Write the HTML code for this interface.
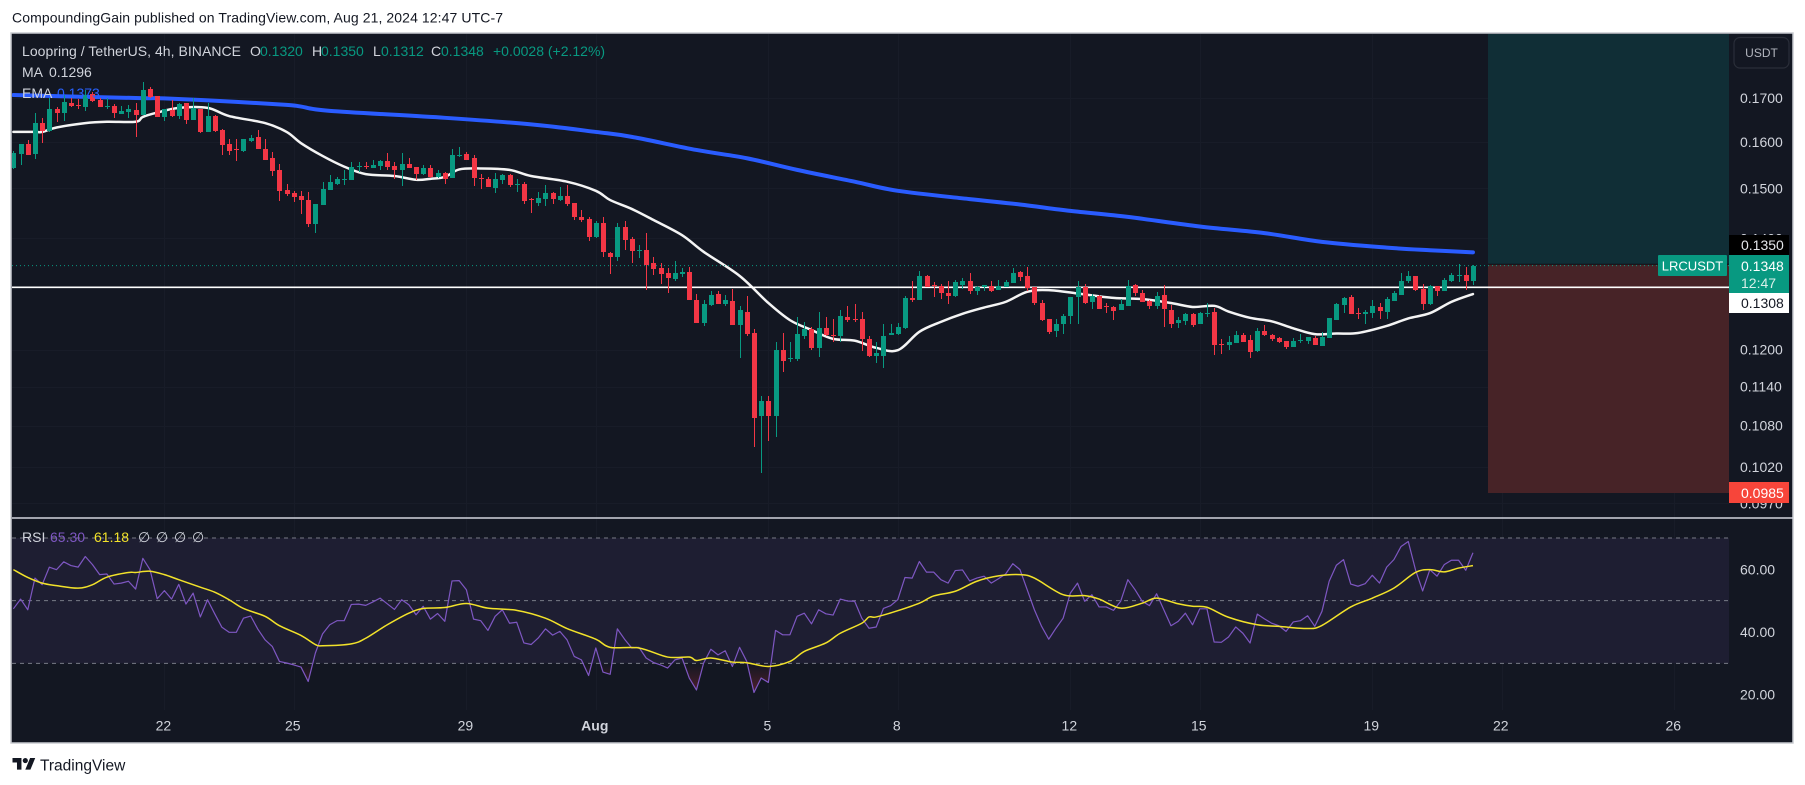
<!DOCTYPE html>
<html lang="en">
<head>
<meta charset="utf-8">
<title>LRCUSDT 4h chart</title>
<style>
html,body{margin:0;padding:0;background:#fff;width:1805px;height:785px;overflow:hidden}
svg{display:block}
text{font-family:"Liberation Sans",sans-serif}
</style>
</head>
<body>
<svg id="root" xmlns="http://www.w3.org/2000/svg" width="1805" height="785" viewBox="0 0 1805 785">
  <defs>
    <clipPath id="mainClip"><rect x="12" y="34" width="1717" height="484"/></clipPath>
    <clipPath id="rsiClip"><rect x="12" y="519" width="1717" height="190"/></clipPath>
    <clipPath id="osClip"><rect x="12" y="663.3" width="1717" height="46"/></clipPath>
    <linearGradient id="osGrad" gradientUnits="userSpaceOnUse" x1="0" y1="663" x2="0" y2="698">
      <stop offset="0" stop-color="#f23645" stop-opacity="0"/>
      <stop offset="1" stop-color="#f23645" stop-opacity="0.32"/>
    </linearGradient>
  </defs>

  <text x="12" y="22.5" font-size="14" fill="#131722" textLength="491">CompoundingGain published on TradingView.com, Aug 21, 2024 12:47 UTC-7</text>

  <rect x="11" y="33" width="1782" height="710" fill="#131722" stroke="#c9cbd1" stroke-width="1.5"/>

  <g id="grid"></g>

  <rect x="1488" y="34" width="241" height="230.5" fill="#102e36"/>
  <rect x="1488" y="264.5" width="241" height="228.5" fill="#472327"/>
  <line x1="1488" x2="1729" y1="264.3" y2="264.3" stroke="#0d1116" stroke-width="1"/>

  <g clip-path="url(#mainClip)">
    <g id="indicators"></g>
    <g id="levels"></g>
    <g id="candles" shape-rendering="crispEdges"></g>
  </g>

  <rect x="1729" y="34" width="63" height="484" fill="#131722"/>

  <g font-size="14">
    <text x="22" y="56" fill="#d1d4dc" textLength="219">Loopring / TetherUS, 4h, BINANCE</text>
    <text x="250" y="56" fill="#d1d4dc">O</text>
    <text x="260" y="56" fill="#089981">0.1320</text>
    <text x="312" y="56" fill="#d1d4dc">H</text>
    <text x="321" y="56" fill="#089981">0.1350</text>
    <text x="373" y="56" fill="#d1d4dc">L</text>
    <text x="381" y="56" fill="#089981">0.1312</text>
    <text x="431" y="56" fill="#d1d4dc">C</text>
    <text x="441" y="56" fill="#089981">0.1348</text>
    <text x="493" y="56" fill="#089981">+0.0028 (+2.12%)</text>
    <text x="22" y="77" fill="#d1d4dc">MA</text>
    <text x="49" y="77" fill="#d1d4dc">0.1296</text>
    <text x="22" y="98" fill="#d1d4dc">EMA</text>
    <text x="57" y="98" fill="#2962ff">0.1373</text>
  </g>

  <g id="priceAxis" font-size="14"></g>

  <g>
    <rect x="1734" y="37.5" width="55" height="30.5" rx="6" fill="#131722" stroke="#2a2e39" stroke-width="1.2"/>
    <text x="1761.5" y="57" font-size="12" text-anchor="middle" fill="#b2b5be">USDT</text>
  </g>

  <g>
    <rect x="1729" y="235" width="60" height="20" fill="#000"/>
    <text x="1741" y="250" font-size="14" fill="#e4e6ea">0.1350</text>
  </g>
  <g>
    <rect x="1658" y="255" width="69" height="21" rx="1" fill="#089981"/>
    <text x="1692.5" y="270.5" font-size="13" text-anchor="middle" fill="#fff">LRCUSDT</text>
    <rect x="1729" y="255" width="60" height="38" fill="#089981"/>
    <text x="1741" y="271" font-size="14" fill="#fff">0.1348</text>
    <text x="1741" y="288" font-size="14" fill="#d8efe9">12:47</text>
  </g>
  <g>
    <rect x="1729" y="293" width="60" height="20" fill="#fff"/>
    <text x="1741" y="308" font-size="14" fill="#131722">0.1308</text>
  </g>
  <g>
    <rect x="1729" y="482" width="60" height="21" fill="#f7453a"/>
    <text x="1741" y="498" font-size="14" fill="#fff">0.0985</text>
  </g>

  <line x1="12" x2="1793" y1="518" y2="518" stroke="#d1d4dc" stroke-width="1.5"/>

  <g>
    <rect id="rsiBand" x="12" width="1717" fill="#1e1e32"/>
    <g id="rsiGuides"></g>
    <g clip-path="url(#osClip)"><polygon id="osFill" fill="url(#osGrad)"/></g>
    <g id="rsiSeries" clip-path="url(#rsiClip)"></g>
    <g id="rsiAxis" font-size="14"></g>
  </g>

  <g font-size="14">
    <text x="22" y="542" fill="#d1d4dc">RSI</text>
    <text x="50" y="542" fill="#7e57c2">65.30</text>
    <text x="94" y="542" fill="#f2e22a">61.18</text>
    <text x="138" y="542" fill="#d1d4dc">∅</text>
    <text x="156" y="542" fill="#d1d4dc">∅</text>
    <text x="174" y="542" fill="#d1d4dc">∅</text>
    <text x="192" y="542" fill="#d1d4dc">∅</text>
  </g>

  <g id="timeAxis" font-size="14"></g>

  <g>
    <g transform="translate(12.5 755.5) scale(.64)" fill="#131722">
      <path d="M14 22H7V11H0V4h14v18z"/>
      <path d="M28 22h-8l7.5-18h8L28 22z"/>
      <circle cx="20" cy="8" r="4"/>
    </g>
    <text x="40" y="770.5" font-size="15.5" fill="#131722">TradingView</text>
  </g>
</svg>

<script>
const opens = [.1543,.1574,.1595,.1573,.1642,.1624,.1674,.1665,.1688,.1684,
.1679,.1709,.1695,.1680,.1681,.1662,.1667,.1672,.1660,.1721,
.1704,.1656,.1672,.1658,.1688,.1649,.1674,.1622,.1658,.1626,
.1595,.1584,.1580,.1602,.1611,.1584,.1565,.1539,.1497,.1491,
.1484,.1476,.1428,.1466,.1497,.1510,.1519,.1518,.1546,.1548,
.1544,.1548,.1557,.1548,.1539,.1552,.1545,.1531,.1544,.1523,
.1533,.1522,.1570,.1573,.1565,.1522,.1520,.1501,.1518,.1529,
.1508,.1510,.1478,.1470,.1478,.1491,.1476,.1484,.1470,.1441,
.1438,.1402,.1430,.1372,.1365,.1422,.1399,.1377,.1378,.1352,
.1343,.1334,.1323,.1332,.1336,.1286,.1245,.1277,.1296,.1279,
.1284,.1242,.1265,.1228,.1094,.1117,.1094,.1200,.1185,.1185,
.1223,.1235,.1202,.1237,.1225,.1222,.1255,.1252,.1252,.1218,
.1189,.1190,.1224,.1226,.1237,.1289,.1285,.1329,.1312,.1310,
.1298,.1292,.1312,.1319,.1301,.1309,.1311,.1303,.1309,.1316,
.1336,.1329,.1309,.1280,.1252,.1231,.1243,.1257,.1291,.1309,
.1281,.1292,.1274,.1273,.1268,.1274,.1312,.1297,.1283,.1274,
.1294,.1268,.1245,.1249,.1261,.1244,.1262,.1264,.1210,.1208,
.1211,.1225,.1216,.1197,.1231,.1225,.1219,.1214,.1204,.1215,
.1214,.1219,.1206,.1219,.1250,.1277,.1291,.1262,.1260,.1262,
.1273,.1264,.1283,.1295,.1320,.1329,.1305,.1278,.1310,.1301,
.1320,.1330,.1331,.1320];
const highs = [.1580,.1595,.1604,.1665,.1654,.1699,.1680,.1707,.1703,.1697,
.1719,.1713,.1699,.1701,.1686,.1681,.1683,.1688,.1738,.1726,
.1704,.1674,.1695,.1688,.1688,.1700,.1674,.1688,.1660,.1628,
.1606,.1606,.1606,.1615,.1626,.1606,.1578,.1552,.1510,.1495,
.1495,.1493,.1468,.1513,.1528,.1524,.1539,.1556,.1556,.1555,
.1561,.1561,.1576,.1556,.1576,.1565,.1545,.1550,.1550,.1539,
.1535,.1584,.1589,.1578,.1572,.1531,.1524,.1533,.1531,.1531,
.1520,.1514,.1480,.1493,.1507,.1493,.1503,.1507,.1470,.1456,
.1441,.1434,.1441,.1374,.1430,.1434,.1403,.1387,.1411,.1365,
.1352,.1343,.1357,.1343,.1346,.1296,.1286,.1301,.1301,.1294,
.1305,.1274,.1292,.1235,.1126,.1126,.1212,.1228,.1212,.1255,
.1247,.1238,.1264,.1255,.1252,.1267,.1274,.1279,.1264,.1223,
.1212,.1244,.1243,.1245,.1293,.1320,.1338,.1331,.1318,.1314,
.1320,.1321,.1325,.1334,.1311,.1312,.1320,.1321,.1321,.1344,
.1338,.1345,.1309,.1285,.1252,.1252,.1261,.1291,.1320,.1315,
.1296,.1294,.1280,.1274,.1287,.1321,.1314,.1303,.1285,.1299,
.1312,.1277,.1256,.1263,.1263,.1265,.1280,.1271,.1218,.1223,
.1231,.1228,.1225,.1236,.1241,.1226,.1221,.1214,.1219,.1226,
.1221,.1223,.1229,.1254,.1280,.1291,.1294,.1271,.1268,.1285,
.1280,.1291,.1301,.1334,.1338,.1329,.1315,.1312,.1310,.1325,
.1334,.1351,.1345,.1350];
const lows = [.1540,.1549,.1570,.1563,.1598,.1622,.1644,.1647,.1680,.1674,
.1670,.1690,.1678,.1674,.1654,.1662,.1654,.1611,.1660,.1700,
.1656,.1647,.1656,.1651,.1640,.1649,.1620,.1622,.1622,.1572,
.1572,.1559,.1578,.1600,.1584,.1561,.1526,.1474,.1484,.1472,
.1448,.1422,.1411,.1466,.1497,.1507,.1507,.1518,.1535,.1541,
.1544,.1539,.1539,.1520,.1505,.1544,.1518,.1529,.1522,.1522,
.1510,.1522,.1567,.1561,.1505,.1499,.1503,.1491,.1510,.1503,
.1493,.1468,.1450,.1464,.1464,.1468,.1474,.1464,.1436,.1432,
.1395,.1400,.1365,.1332,.1356,.1378,.1352,.1363,.1303,.1330,
.1314,.1298,.1319,.1326,.1286,.1245,.1240,.1274,.1279,.1274,
.1242,.1186,.1223,.1049,.1012,.1057,.1063,.1163,.1180,.1182,
.1218,.1200,.1187,.1223,.1213,.1213,.1247,.1247,.1198,.1187,
.1178,.1170,.1224,.1224,.1235,.1282,.1285,.1309,.1290,.1287,
.1278,.1290,.1305,.1296,.1294,.1301,.1300,.1303,.1309,.1316,
.1319,.1301,.1277,.1249,.1226,.1221,.1226,.1243,.1243,.1278,
.1270,.1270,.1263,.1250,.1268,.1274,.1292,.1281,.1270,.1269,
.1238,.1236,.1236,.1242,.1238,.1244,.1256,.1191,.1193,.1199,
.1211,.1213,.1186,.1196,.1223,.1214,.1211,.1201,.1204,.1211,
.1209,.1208,.1206,.1219,.1250,.1262,.1261,.1252,.1243,.1254,
.1252,.1252,.1283,.1295,.1316,.1301,.1268,.1277,.1292,.1301,
.1318,.1318,.1303,.1312];
const closes = [.1576,.1595,.1572,.1642,.1624,.1674,.1665,.1690,.1681,.1683,
.1707,.1693,.1679,.1681,.1665,.1669,.1674,.1660,.1719,.1702,
.1656,.1674,.1658,.1685,.1649,.1677,.1622,.1658,.1624,.1593,
.1580,.1582,.1606,.1609,.1584,.1561,.1537,.1495,.1489,.1482,
.1476,.1428,.1468,.1499,.1513,.1520,.1520,.1545,.1548,.1546,
.1550,.1557,.1546,.1539,.1552,.1544,.1531,.1544,.1523,.1533,
.1520,.1571,.1571,.1561,.1521,.1521,.1503,.1520,.1529,.1507,
.1510,.1474,.1477,.1480,.1491,.1478,.1484,.1468,.1441,.1436,
.1402,.1430,.1373,.1365,.1422,.1397,.1376,.1378,.1350,.1341,
.1332,.1325,.1334,.1336,.1286,.1245,.1279,.1294,.1279,.1286,
.1242,.1267,.1226,.1092,.1117,.1094,.1200,.1182,.1186,.1226,
.1235,.1202,.1237,.1225,.1222,.1258,.1250,.1251,.1217,.1189,
.1194,.1223,.1228,.1238,.1289,.1285,.1329,.1309,.1311,.1298,
.1292,.1318,.1319,.1301,.1309,.1312,.1301,.1311,.1318,.1334,
.1327,.1307,.1280,.1250,.1229,.1243,.1258,.1291,.1309,.1280,
.1292,.1270,.1273,.1266,.1278,.1310,.1297,.1281,.1274,.1292,
.1269,.1243,.1250,.1261,.1242,.1263,.1263,.1208,.1209,.1213,
.1225,.1213,.1196,.1231,.1225,.1218,.1213,.1204,.1214,.1216,
.1221,.1208,.1221,.1254,.1278,.1289,.1261,.1261,.1265,.1275,
.1266,.1287,.1298,.1320,.1329,.1303,.1278,.1310,.1301,.1321,
.1331,.1331,.1320,.1348];

const maIndex = [0,3,4,6,10,13,17,18,20,23,27,30,35,38,40,43,46,49,53,56,58,60,62,65,69,72,77,81,83,86,89,93,96,101,105,108,111,114,117,120,123,126,129,132,135,138,141,144,148,153,157,161,164,167,169,172,175,178,181,184,187,191,194,197,200,203];
const maValues = [.1622,.1622,.1622,.1632,.1642,.1645,.1645,.1656,.1666,.1677,.1677,.1658,.1642,.1622,.1597,.1569,.1546,.1530,.1526,.1518,.1520,.1524,.1540,.1542,.1539,.1526,.1514,.1495,.1476,.1458,.1436,.1406,.1374,.1329,.1280,.1250,.1233,.1218,.1215,.1203,.1199,.1230,.1247,.1261,.1272,.1282,.1300,.1303,.1297,.1289,.1287,.1280,.1273,.1275,.1265,.1254,.1248,.1236,.1226,.1227,.1228,.1240,.1253,.1262,.1282,.1296];

const emaIndex = [0,17,21,31,38,40,44,60,72,81,86,95,102,109,117,123,133,140,147,155,165,174,182,191,197,203];
const emaValues = [.1707,.1700,.1699,.1691,.1684,.1680,.1670,.1654,.1639,.1622,.1611,.1582,.1564,.1539,.1514,.1495,.1478,.1467,.1454,.1442,.1423,.1410,.1393,.1382,.1377,.1373];

const rsiValues = [47.4,50.5,47.1,57.2,55.1,60.7,59.9,62.4,61.2,60.7,
64.1,61.5,58.3,58.5,55.3,55.6,56.2,53.7,63.5,59.9,
50.6,53.2,50.5,55.2,48.9,52.4,44.8,50.3,45.8,41.5,
39.9,39.9,44.4,45.1,40.9,37.5,35.4,30.6,30.1,29.5,
28.8,24.2,33.3,39.4,42.3,43.6,43.6,48.8,48.9,48.5,
49.6,50.8,49,47.2,50.3,48.7,45.5,48.2,44.1,45.9,
43.4,56.3,56.4,53.5,44.1,43.6,40.5,45,47.1,42.8,
43.1,36.5,36,38.1,41,39,40.2,37.5,32.2,31.1,
26.1,34.9,27.2,26.5,41,37.7,34.9,35.1,31.7,30.3,
29.5,28.5,31.1,31.7,25.3,21.5,30.1,34.5,32.7,34,
29,35.1,30.6,20.7,25.3,23.9,40.5,39.1,39.1,45,
46,42.6,47.1,45.8,45.4,50.5,49.9,49.8,44.4,41.2,
41.6,47.5,48.4,50.3,57.4,57.2,62.5,59.1,59.1,56.7,
55.6,59.6,59.8,56.3,57.2,57.8,55.6,57,58.5,61.8,
59.9,53.5,47.1,41.8,37.7,41.2,44.4,52.4,55.6,49.8,
51.9,48,48,46.9,49.8,56.7,53.5,49.8,48.4,52.2,
47.1,42,43.4,46,42.3,47.4,47.4,36.8,36.7,38.4,
41.6,39.6,36.5,45.7,44.2,42.8,42,40.2,43.2,43.6,
45.2,41.8,46.6,56.2,61.3,63.1,55.3,54.6,55.4,58.1,
55.6,60.7,63.1,67.3,68.9,59.9,53.1,59.9,57.8,61.5,
62.9,62.9,59.7,65.3];

const rsiMaIndex = [0,2,4,6,9,11,13,16,17,19,21,23,26,28,30,32,35,37,40,42,43,47,49,52,55,57,60,63,66,70,74,77,81,83,87,91,94,95,97,100,102,105,108,110,113,115,118,119,120,123,126,128,131,134,137,140,142,146,149,151,154,157,159,162,164,166,169,173,176,180,182,186,189,192,195,197,199,201,203];
const rsiMaValues = [59.9,57.4,55.6,54.8,54,55.1,57.5,59,59,59.4,58.3,56.7,54.3,52.7,50.3,47.5,45,42,38.9,36,35.6,36.2,38,42.3,46,47.5,47.8,49.1,47.6,46.9,44.4,41.1,37.7,35.1,34.9,32,32,30.9,31.7,30.4,30.2,29,30.6,33.8,36.5,39.6,42.8,44.8,44.8,46.8,49.2,51.5,53,56.2,57.9,58.3,57.2,51.9,51.6,50.5,47.6,49.2,50.8,49,48.2,47.9,44.7,42.3,41.8,41.1,42.1,48,50.8,54,59,59.9,59.2,60.4,61.18];

const priceTicks = [0.17,0.16,0.15,0.14,0.12,0.114,0.108,0.102,0.097];
const rsiTicks = [60,40,20];
const rsiGuideLevels = [70,50,30];
const horizontalLevel = [0.1308];
const lastPrice = [0.1348];
const timeLabels = ['22','25','29','Aug','5','8','12','15','19','22','26'];
const timeCandleIndex = [21,39,63,81,105,123,147,165,189,207,231];

const SVGNS = 'http://www.w3.org/2000/svg';
const candleX = i => 13.4 + 7.19 * i;
const priceY = p => 98 + 722.4 * Math.log(0.17 / p);
const rsiY = v => 538 + (70 - v) * 3.133;
const mk = (tag, parent, attrs) => {
  const el = document.createElementNS(SVGNS, tag);
  for (const k in attrs) el.setAttribute(k, attrs[k]);
  parent.appendChild(el);
  return el;
};
const smoothPath = pts => {
  let d = 'M' + pts[0][0] + ' ' + pts[0][1];
  for (let i = 0; i < pts.length - 1; i++) {
    const p0 = pts[Math.max(0, i - 1)], p1 = pts[i], p2 = pts[i + 1], p3 = pts[Math.min(pts.length - 1, i + 2)];
    const c1x = p1[0] + (p2[0] - p0[0]) / 6, c1y = p1[1] + (p2[1] - p0[1]) / 6;
    const c2x = p2[0] - (p3[0] - p1[0]) / 6, c2y = p2[1] - (p3[1] - p1[1]) / 6;
    d += 'C' + c1x + ' ' + c1y + ' ' + c2x + ' ' + c2y + ' ' + p2[0] + ' ' + p2[1];
  }
  return d;
};
const GREEN = '#089981', RED = '#f23645';
const $ = id => document.getElementById(id);

/* grid */
const gridG = $('grid');
timeCandleIndex.forEach(i => {
  const x = Math.round(candleX(i)) + .5;
  const v1 = mk('line', gridG, {x1:x, x2:x, y1:34, y2:710, stroke:'#181c28', 'stroke-width':1});
  
  
});
priceTicks.forEach(p => {
  const y = Math.round(priceY(p)) + .5;
  const h1 = mk('line', gridG, {x1:12, x2:1729, y1:y, y2:y, stroke:'#181c28', 'stroke-width':1});
  
  
});

/* moving averages */
const indG = $('indicators');
const emaLine = mk('path', indG, {
  d: smoothPath(emaIndex.map((i, k) => [candleX(i), priceY(emaValues[k])])),
  fill:'none', stroke:'#2a5cff', 'stroke-width':4, 'stroke-linejoin':'round', 'stroke-linecap':'round'
});


const maLine = mk('path', indG, {
  d: smoothPath(maIndex.map((i, k) => [candleX(i), priceY(maValues[k])])),
  fill:'none', stroke:'#f4f4f4', 'stroke-width':2.5, 'stroke-linejoin':'round', 'stroke-linecap':'round'
});



/* price levels */
const levG = $('levels');
const lastLine = mk('line', levG, {x1:12, x2:1729, y1:priceY(lastPrice[0]), y2:priceY(lastPrice[0]), stroke:'#089981', 'stroke-width':1, 'stroke-dasharray':'1 3'});


const hLine = mk('line', levG, {x1:12, x2:1729, y1:priceY(horizontalLevel[0]), y2:priceY(horizontalLevel[0]), stroke:'#ffffff', 'stroke-width':1.6});



/* candles */
const candG = $('candles');
closes.forEach((c, i) => {
  const o = opens[i], col = c >= o ? GREEN : RED;
  const cx = Math.round(candleX(i));
  const yTop = Math.round(priceY(Math.max(o, c))), yBot = Math.round(priceY(Math.min(o, c)));
  const yHigh = Math.round(priceY(highs[i])), yLow = Math.round(priceY(lows[i]));
  const g = mk('g', candG, {});
  
  
  const wick = mk('rect', g, {x:cx, y:yHigh, width:1, height:Math.max(1, yLow - yHigh), fill:col});
  
  
  const body = mk('rect', g, {x:cx - 2, y:yTop, width:5, height:Math.max(1, yBot - yTop), fill:col});
  
  
});

/* price axis */
const paG = $('priceAxis');
priceTicks.forEach(p => {
  const t = mk('text', paG, {x:1740, y:priceY(p) + 5, fill:'#d1d4dc'});
  
  
  t.textContent = p.toFixed(4);
});

/* RSI pane */
const band = $('rsiBand');
band.setAttribute('y', rsiY(rsiGuideLevels[0]));
band.setAttribute('height', rsiY(rsiGuideLevels[2]) - rsiY(rsiGuideLevels[0]));
const guideG = $('rsiGuides');
rsiGuideLevels.forEach(v => {
  const l = mk('line', guideG, {x1:12, x2:1729, y1:rsiY(v), y2:rsiY(v), stroke:'#787b86', 'stroke-width':1, 'stroke-dasharray':'4 4'});
  
  
});
const rsiPts = rsiValues.map((v, i) => candleX(i) + ',' + rsiY(v));
$('osFill').setAttribute('points',
  candleX(0) + ',' + rsiY(30) + ' ' + rsiPts.join(' ') + ' ' + candleX(rsiValues.length - 1) + ',' + rsiY(30));
const rsiG = $('rsiSeries');
const rsiLine = mk('polyline', rsiG, {points:rsiPts.join(' '), fill:'none', stroke:'#7e57c2', 'stroke-width':1.2, 'stroke-linejoin':'round'});


const rsiMaLine = mk('path', rsiG, {
  d: smoothPath(rsiMaIndex.map((i, k) => [candleX(i), rsiY(rsiMaValues[k])])),
  fill:'none', stroke:'#f2e22a', 'stroke-width':1.5, 'stroke-linejoin':'round'
});


const raG = $('rsiAxis');
rsiTicks.forEach(v => {
  const t = mk('text', raG, {x:1740, y:rsiY(v) + 5, fill:'#d1d4dc'});
  
  
  t.textContent = v.toFixed(2);
});

/* time axis */
const taG = $('timeAxis');
timeLabels.forEach((lab, k) => {
  const t = mk('text', taG, {x:candleX(timeCandleIndex[k]) - 1, y:730.5, 'text-anchor':'middle', fill:'#d1d4dc'});
  if (lab === 'Aug') t.setAttribute('font-weight', 'bold');
  
  
  t.textContent = lab;
});
</script>
</body>
</html>
